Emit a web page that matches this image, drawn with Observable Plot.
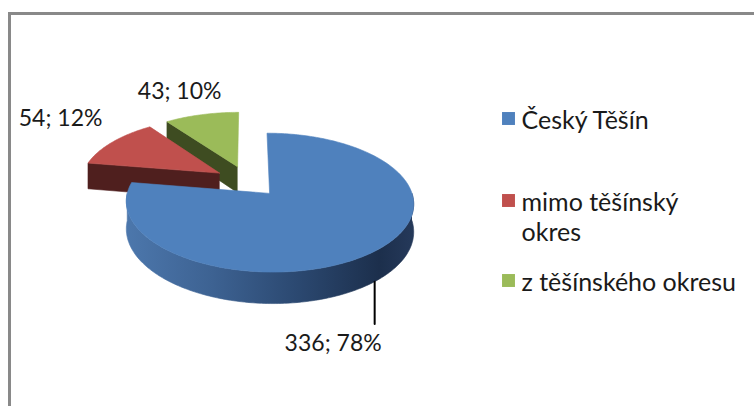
<!DOCTYPE html>
<html><head><meta charset="utf-8">
<script src="https://cdn.jsdelivr.net/npm/d3@7"></script>
<script src="https://cdn.jsdelivr.net/npm/@observablehq/plot@0.6"></script>
<style>
body{margin:0;background:#fff;}
#wrap{position:relative;width:754px;height:406px;overflow:hidden;background:#fff;}
#wrap svg{position:absolute;left:0;top:0;}
#frame{position:absolute;left:8px;top:12px;width:900px;height:600px;border-left:3px solid #898989;border-top:3px solid #898989;pointer-events:none;}
</style></head><body><div id="wrap"></div>
<script>
// ---- data ----
const categories = ["Český Těšín", "mimo těšínský okres", "z těšínského okresu"];
const values = [336, 54, 43];
const labels = ["336; 78%", "54; 12%", "43; 10%"];
const legendLines = ["Český Těšín", "mimo těšínský\nokres", "z těšínského okresu"];
const topColors = ["#4f81bd", "#c0504d", "#9bbb59"];
const sideColors = ["url(#blueSide)", "#4f1f1e", "#3e4c21"];

// ---- geometry (3D exploded pie, perspective) ----
const total = d3.sum(values);
const k = 0.13, explode = 0.24, thick = 0.41;
const proj = (U, V, z) => ({x: U / (1 - k * V), y: (V + z * thick) / (1 - k * V)});
let acc = 0;
const slices = values.map((v, i) => {
  const a0 = acc / total * 2 * Math.PI; acc += v;
  const a1 = acc / total * 2 * Math.PI;
  const mid = (a0 + a1) / 2;
  return {i, a0, a1, mid, ox: explode * Math.sin(mid), oy: -explode * Math.cos(mid)};
});
const rim = (s, a, z) => proj(s.ox + Math.sin(a), s.oy - Math.cos(a), z);
const ctr = (s, z) => proj(s.ox, s.oy, z);
const arc = (s, from, to, z) => {
  const n = Math.max(2, Math.ceil(Math.abs(to - from) / (Math.PI / 180)));
  return d3.range(n + 1).map(j => rim(s, from + (to - from) * j / n, z));
};

const faces = [];
for (const s of [...slices].sort((a, b) => a.oy - b.oy)) {
  const lo = Math.max(s.a0, Math.PI / 2), hi = Math.min(s.a1, 3 * Math.PI / 2);
  if (hi > lo) faces.push({pts: [...arc(s, lo, hi, 0), ...arc(s, hi, lo, 1)], fill: sideColors[s.i]});
  if (Math.sin(s.a0) < -1e-9) faces.push({pts: [ctr(s, 0), rim(s, s.a0, 0), rim(s, s.a0, 1), ctr(s, 1)], fill: sideColors[s.i]});
  if (Math.sin(s.a1) > 1e-9) faces.push({pts: [ctr(s, 0), rim(s, s.a1, 0), rim(s, s.a1, 1), ctr(s, 1)], fill: sideColors[s.i]});
  faces.push({pts: [ctr(s, 0), ...arc(s, s.a0, s.a1, 0), ctr(s, 0)], fill: topColors[s.i]});
}

const labelFont = {fontFamily: "Lato", fontSize: 23, fill: "#1a1a1a"};
const legendFont = {fontFamily: "Lato", fontSize: 25, fill: "#1a1a1a"};

// data labels
const b = slices[0];
const leadTop = rim(b, b.mid, 1);
const leadBot = {x: leadTop.x, y: leadTop.y + 0.65};
const labelMarks = [
  Plot.line([leadTop, leadBot], {x: "x", y: "y", stroke: "#000", strokeWidth: 2}),
  Plot.text([leadBot], {x: "x", y: "y", text: () => labels[0], textAnchor: "end", lineAnchor: "bottom", dx: 7, dy: 27, ...labelFont}),
  Plot.text([rim(slices[1], slices[1].mid, 0)], {x: "x", y: "y", text: () => labels[1], textAnchor: "end", lineAnchor: "bottom", dx: -10, dy: -16, ...labelFont}),
  Plot.text([rim(slices[2], slices[2].mid, 0)], {x: "x", y: "y", text: () => labels[2], textAnchor: "middle", lineAnchor: "bottom", dx: -22, dy: -16, ...labelFont})
];

// legend (layout)
const legendBaselines = [125, 207, 287];
const legendMarks = [];
categories.forEach((c, i) => {
  legendMarks.push(Plot.dot([0], {frameAnchor: "top-left", dx: 508, dy: legendBaselines[i] - 7, symbol: "square", r: 7.3, fill: topColors[i], stroke: "none"}));
  legendMarks.push(Plot.text([0], {frameAnchor: "top-left", dx: 521, dy: legendBaselines[i] - 17.75, text: () => legendLines[i], textAnchor: "start", lineAnchor: "top", lineHeight: 1.2, ...legendFont}));
});

const chart = Plot.plot({
  width: 754, height: 406, margin: 0,
  x: {domain: [-1, 1], range: [108, 386], axis: null},
  y: {domain: [-1, 1], range: [115.7, 245.7], axis: null},
  style: {background: "transparent"},
  marks: [
    ...faces.map(f => Plot.line(f.pts, {x: "x", y: "y", fill: f.fill, stroke: f.fill, strokeWidth: 0.6, curve: "linear"})),
    ...labelMarks,
    ...legendMarks
  ]
});

const svg = d3.select(chart);
const grad = svg.insert("defs", ":first-child").append("linearGradient")
  .attr("id", "blueSide").attr("x1", 0).attr("x2", 1).attr("y1", 0).attr("y2", 0);
[[0, "#4c77ac"], [0.3, "#3d6292"], [0.6, "#2b4870"], [0.88, "#1c2f4c"], [1, "#25395a"]]
  .forEach(([o, c]) => grad.append("stop").attr("offset", o).attr("stop-color", c));

const wrap = document.getElementById("wrap");
wrap.appendChild(chart);
const frame = document.createElement("div");
frame.id = "frame";
wrap.appendChild(frame);
</script></body></html>
